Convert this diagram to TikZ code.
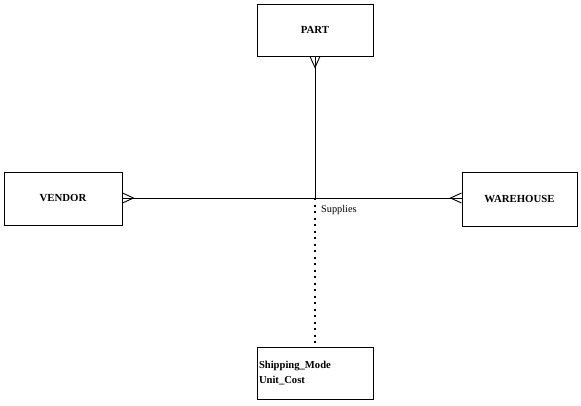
\documentclass[tikz,border=0pt]{standalone}
\usepackage{fontspec}
\setmainfont{Liberation Serif}
\usetikzlibrary{calc}
\tikzset{
  entity/.style={draw, line width=1pt, minimum width=116pt, minimum height=52pt, font=\bfseries\fontsize{10.8}{12}\selectfont, inner sep=0pt},
  attrbox/.style={draw, line width=1pt, minimum width=116pt, minimum height=52pt, font=\bfseries\fontsize{10.6}{15}\selectfont, align=left, text width=112pt, inner xsep=2pt, inner ysep=0pt},
  rel/.style={line width=1pt},
  foot/.style={line width=0.9pt},
  attrline/.style={line width=1.5pt, dash pattern=on 2pt off 4.5pt}
}
\begin{document}
\begin{tikzpicture}[x=1pt,y=-1pt]
\useasboundingbox (0,0) rectangle (581,405);
\node[entity] (part) at (315,30) {PART};
\node[entity, minimum width=118pt, minimum height=53pt] (vendor) at (63,198.5) {VENDOR};
\node[entity, minimum width=115pt, minimum height=54pt] (warehouse) at (519.5,199) {WAREHOUSE};
\node[attrbox] (attr) at (315,373) {Shipping\_Mode\\Unit\_Cost};
\coordinate (c) at (315,198);
\draw[rel] (part.south) -- (c);
\draw[rel] (vendor.east |- c) -- (warehouse.west |- c);
\draw[attrline] (c) -- (attr.north);
\node[font=\fontsize{10.3}{11}\selectfont, anchor=west, inner sep=0pt] (lbl) at (321,210) {Supplies};
% crow's feet
\draw[foot] ($(part.south)+(-5,0)$) -- ($(part.south)+(0,11)$) -- ($(part.south)+(5,0)$);
\draw[foot] ($(vendor.east |- c)+(0,-5)$) -- ($(vendor.east |- c)+(11,0)$) -- ($(vendor.east |- c)+(0,5)$);
\draw[foot] ($(warehouse.west |- c)+(0,-5)$) -- ($(warehouse.west |- c)+(-11,0)$) -- ($(warehouse.west |- c)+(0,5)$);
\end{tikzpicture}
\end{document}
